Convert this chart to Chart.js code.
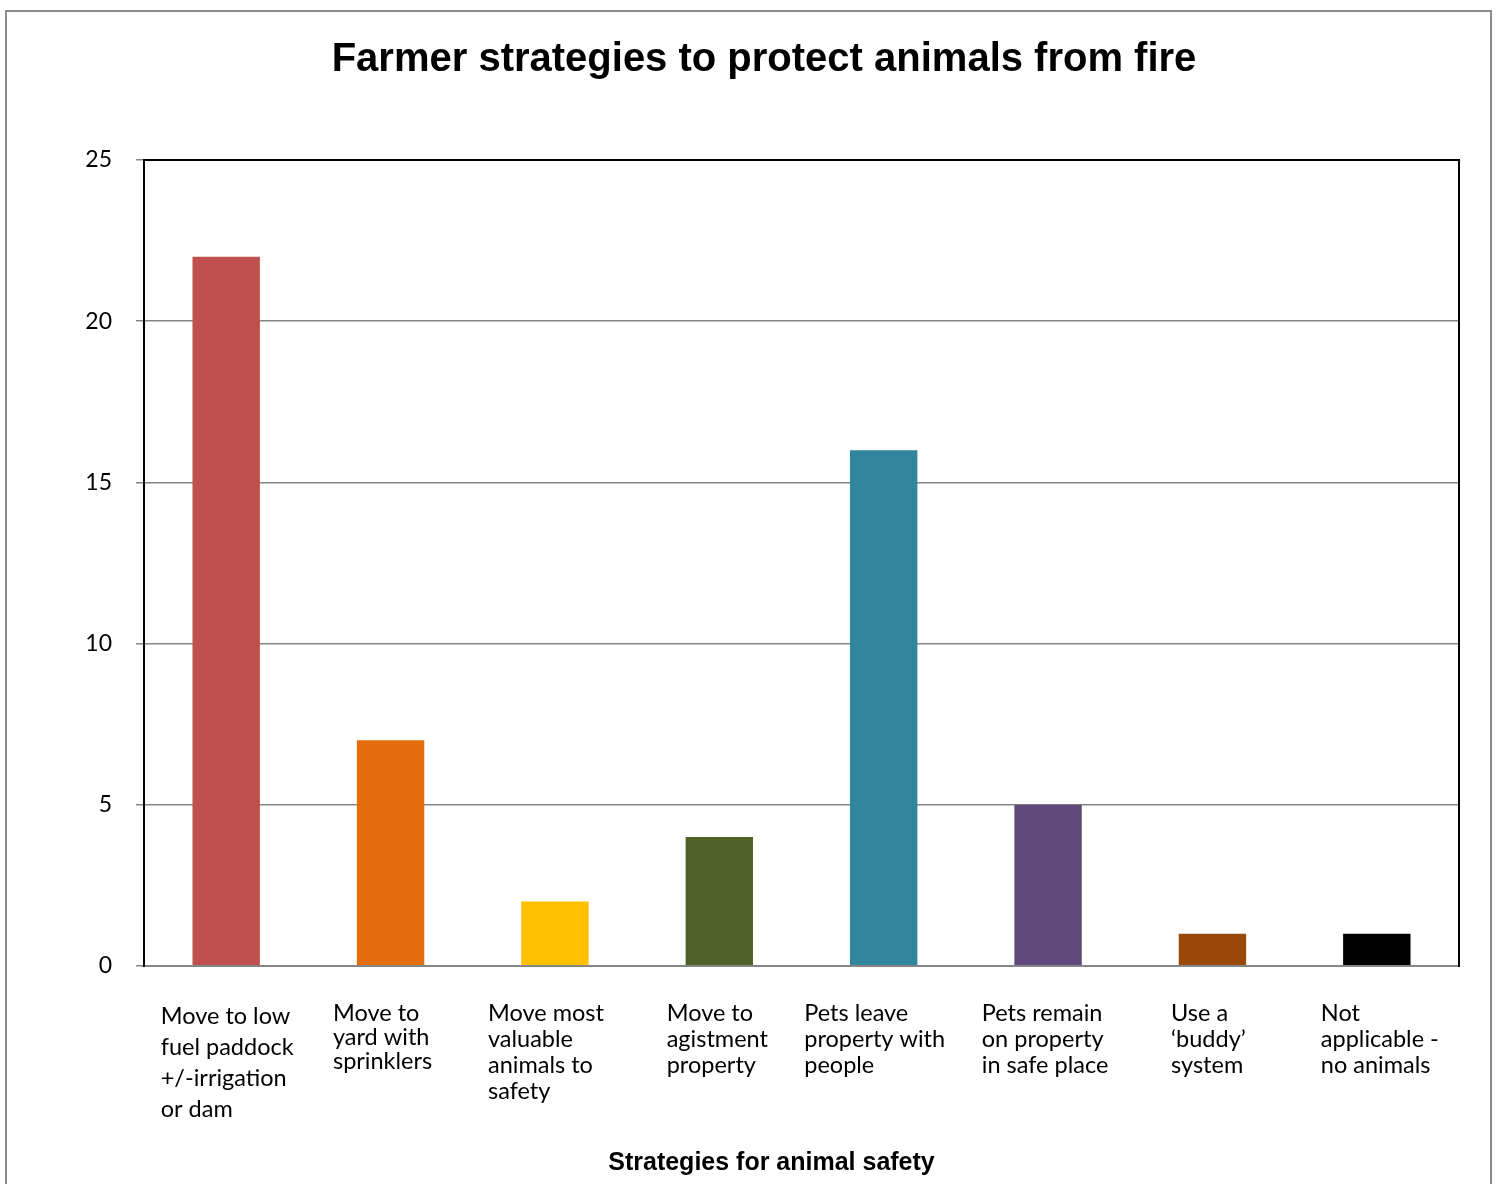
<!DOCTYPE html>
<html><head><meta charset="utf-8">
<script src="https://cdn.jsdelivr.net/npm/chart.js@4/dist/chart.umd.min.js"></script>
<style>html,body{margin:0;padding:0;background:#fff;overflow:hidden}#wrap{width:1499px;height:1184px;position:relative}</style>
</head><body><div id="wrap"><canvas id="c" width="1499" height="1184"></canvas></div>
<script>
const categories = [
  ["Move to low", "fuel paddock", "+/-irrigation", "or dam"],
  ["Move to", "yard with", "sprinklers"],
  ["Move most", "valuable", "animals to", "safety"],
  ["Move to", "agistment", "property"],
  ["Pets leave", "property with", "people"],
  ["Pets remain", "on property", "in safe place"],
  ["Use a", "\u2018buddy\u2019", "system"],
  ["Not", "applicable -", "no animals"]
];
const values = [22, 7, 2, 4, 16, 5, 1, 1];
const barColors = ["#C0504D", "#E46C0A", "#FFC000", "#4F6228", "#31859C", "#604A7B", "#984807", "#000000"];
const yTicks = [0, 5, 10, 15, 20, 25];
const chartTitle = "Farmer strategies to protect animals from fire";
const xAxisTitle = "Strategies for animal safety";

// label layout tweaks (style only: wrap-box nudges and line spacing)
const labelStyle = {
  nudge: [1, -8, -9, -2, -9, -3, -4, 3],
  firstOffset: [58, 55, 55, 55, 55, 55, 55, 55],
  lineGap: [31, 24, 26, 26, 26, 26, 26, 26]
};

const outerBorder = {
  id: 'outerBorder',
  beforeDraw(chart) {
    const ctx = chart.ctx;
    ctx.save();
    ctx.fillStyle = '#fff';
    ctx.fillRect(0, 0, chart.width, chart.height);
    ctx.strokeStyle = '#8c8c8c';
    ctx.lineWidth = 2;
    ctx.strokeRect(6, 11, 1485, 1300);
    ctx.restore();
  }
};

const frame = {
  id: 'frame',
  afterDatasetsDraw(chart) {
    const {ctx, chartArea: a} = chart;
    ctx.save();
    ctx.lineCap = 'square';
    ctx.strokeStyle = '#868686';
    ctx.lineWidth = 2;
    ctx.beginPath(); ctx.moveTo(a.left, a.bottom); ctx.lineTo(a.right, a.bottom); ctx.stroke();
    ctx.strokeStyle = '#000';
    ctx.beginPath(); ctx.moveTo(a.left, a.top); ctx.lineTo(a.right, a.top); ctx.lineTo(a.right, a.bottom); ctx.stroke();
    ctx.beginPath(); ctx.moveTo(a.left, a.top); ctx.lineTo(a.left, a.bottom); ctx.stroke();
    ctx.restore();
  }
};

const catLabels = {
  id: 'catLabels',
  afterDraw(chart) {
    const {ctx, chartArea: a} = chart;
    const xs = chart.scales.x;
    ctx.save();
    ctx.fillStyle = '#000';
    ctx.textBaseline = 'alphabetic';
    ctx.textAlign = 'left';
    ctx.font = '23.5px Lato';
    categories.forEach((lines, i) => {
      const cx = xs.getPixelForValue(i);
      const w = Math.max(...lines.map(l => ctx.measureText(l).width));
      const left = cx - w / 2 + labelStyle.nudge[i];
      lines.forEach((l, j) => {
        ctx.fillText(l, left, a.bottom + labelStyle.firstOffset[i] + j * labelStyle.lineGap[i]);
      });
    });
    ctx.font = 'bold 25px "Liberation Sans"';
    ctx.textAlign = 'center';
    ctx.textBaseline = 'middle';
    ctx.fillText(xAxisTitle, (a.left + a.right) / 2 - 30, a.bottom + 197);
    ctx.restore();
  }
};

new Chart(document.getElementById('c'), {
  type: 'bar',
  data: {
    labels: categories.map(c => c.join(' ')),
    datasets: [{
      data: values,
      backgroundColor: barColors,
      borderWidth: 0,
      barPercentage: 0.41,
      categoryPercentage: 1
    }]
  },
  options: {
    responsive: false,
    animation: false,
    devicePixelRatio: 1,
    layout: { padding: { left: 69, right: 40, top: 36, bottom: 0 } },
    plugins: {
      legend: { display: false },
      tooltip: { enabled: false },
      title: {
        display: true,
        text: chartTitle,
        color: '#000',
        font: { family: '"Liberation Sans", Arial, sans-serif', size: 40, weight: 'bold', lineHeight: 1.2 },
        padding: { top: 0, bottom: 76 }
      }
    },
    scales: {
      x: {
        type: 'category',
        grid: { display: false },
        border: { display: false },
        ticks: { display: false },
        afterFit(s) { s.height = 218; }
      },
      y: {
        min: 0,
        max: 25,
        afterBuildTicks(s) { s.ticks = yTicks.map(v => ({ value: v })); },
        ticks: {
          color: '#000',
          padding: 24,
          font: { family: 'Lato', size: 23 }
        },
        grid: { color: '#868686', lineWidth: 1.5, tickLength: 8 },
        border: { color: '#000', width: 2 },
        afterFit(s) { s.width = 75; }
      }
    }
  },
  plugins: [outerBorder, frame, catLabels]
});
</script>
</body></html>
